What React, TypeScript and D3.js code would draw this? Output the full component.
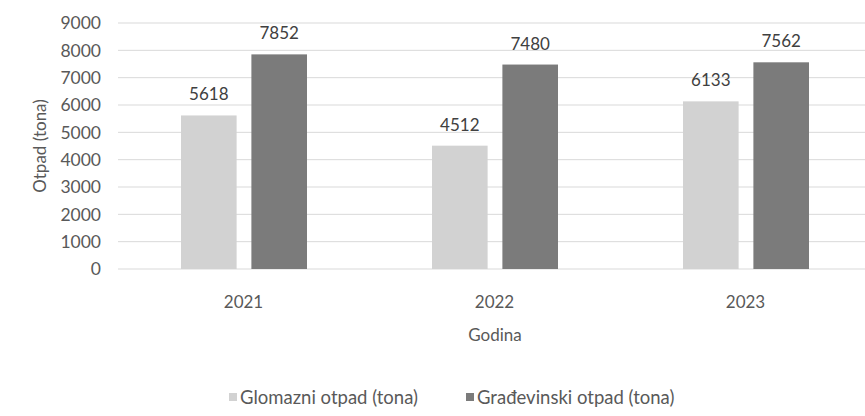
import React, { useEffect, useRef } from 'react';
import * as d3 from 'd3';

const years = ['2021', '2022', '2023'];
const glomazni = [5618, 4512, 6133];
const gradjevinski = [7852, 7480, 7562];
const seriesNames = ['Glomazni otpad (tona)', 'Građevinski otpad (tona)'];
const seriesColors = ['#d2d2d2', '#7b7b7b'];
const yTicks = [0, 1000, 2000, 3000, 4000, 5000, 6000, 7000, 8000, 9000];

const W = 865;
const H = 416;
const FONT = 'Lato, "Open Sans", sans-serif';
const TEXT = '#595959';

const App: React.FC = () => {
  const ref = useRef<SVGSVGElement>(null);

  useEffect(() => {
    const svg = d3.select(ref.current);
    svg.selectAll('*').remove();

    const x = d3.scaleBand<string>().domain(years).range([118, 871]);
    const inner = d3.scaleBand<number>().domain([0, 1]).range([63, 189]).paddingInner(0.21);
    const y = d3.scaleLinear().domain([0, 9000]).range([269, 23]);

    // gridlines
    svg.append('g')
      .selectAll('line')
      .data(yTicks)
      .enter()
      .append('line')
      .attr('x1', 118)
      .attr('x2', W)
      .attr('y1', d => y(d))
      .attr('y2', d => y(d))
      .attr('stroke', '#d9d9d9')
      .attr('stroke-width', 1);

    // y tick labels
    svg.append('g')
      .selectAll('text')
      .data(yTicks)
      .enter()
      .append('text')
      .attr('x', 101)
      .attr('y', d => y(d))
      .attr('dy', '0.36em')
      .attr('text-anchor', 'end')
      .style('font-family', FONT)
      .style('font-size', '17.5px')
      .attr('fill', TEXT)
      .text(d => String(d));

    const data = [glomazni, gradjevinski];
    data.forEach((vals, si) => {
      const g = svg.append('g');
      g.selectAll('rect')
        .data(vals)
        .enter()
        .append('rect')
        .attr('x', (_, i) => (x(years[i]) as number) + (inner(si) as number))
        .attr('width', inner.bandwidth())
        .attr('y', d => y(d))
        .attr('height', d => y(0) - y(d))
        .attr('fill', seriesColors[si]);

      g.selectAll('text')
        .data(vals)
        .enter()
        .append('text')
        .attr('x', (_, i) => (x(years[i]) as number) + (inner(si) as number) + inner.bandwidth() / 2)
        .attr('y', d => y(d) - 15)
        .attr('text-anchor', 'middle')
        .style('font-family', FONT)
        .style('font-size', '17px')
        .attr('fill', '#404040')
        .text(d => String(d));
    });

    // x labels
    svg.append('g')
      .selectAll('text')
      .data(years)
      .enter()
      .append('text')
      .attr('x', d => (x(d) as number) + x.bandwidth() / 2)
      .attr('y', 308)
      .attr('text-anchor', 'middle')
      .style('font-family', FONT)
      .style('font-size', '17px')
      .attr('fill', TEXT)
      .text(d => d);

    svg.append('text')
      .attr('x', 495)
      .attr('y', 341)
      .attr('text-anchor', 'middle')
      .style('font-family', FONT)
      .style('font-size', '17px')
      .attr('fill', TEXT)
      .text('Godina');

    svg.append('text')
      .attr('transform', 'rotate(-90)')
      .attr('x', -146)
      .attr('y', 46)
      .attr('text-anchor', 'middle')
      .style('font-family', FONT)
      .style('font-size', '17px')
      .attr('fill', TEXT)
      .text('Otpad (tona)');

    // legend
    const legendX = [229, 466];
    seriesNames.forEach((name, i) => {
      svg.append('rect')
        .attr('x', legendX[i])
        .attr('y', 393)
        .attr('width', 8)
        .attr('height', 8)
        .attr('fill', seriesColors[i]);
      svg.append('text')
        .attr('x', legendX[i] + 11)
        .attr('y', 404)
        .style('font-family', FONT)
        .style('font-size', '18.5px')
        .attr('fill', TEXT)
        .text(name);
    });
  }, []);

  return (
    <svg ref={ref} width={W} height={H} style={{ position: 'absolute', left: 0, top: 0, background: '#fff' }} />
  );
};

export default App;
